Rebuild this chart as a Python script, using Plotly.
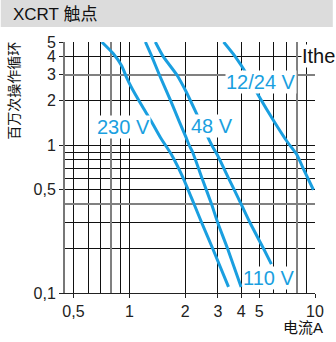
import math
import plotly.graph_objects as go

# ---------------- data ----------------
current_230v = [0.71, 0.82, 0.91, 0.96, 1.03, 1.16, 1.31, 1.47, 1.69, 1.95, 2.23, 2.45, 2.81, 3.42]
cycles_230v = [5.0, 4.16, 3.44, 2.93, 2.44, 1.88, 1.46, 1.13, 0.86, 0.60, 0.40, 0.30, 0.20, 0.11]

current_110v = [1.22, 1.32, 1.45, 1.67, 1.86, 2.02, 2.10, 2.19, 2.46, 2.77, 2.99, 3.38, 4.0]
cycles_110v = [5.0, 4.0, 3.0, 2.0, 1.44, 1.13, 1.0, 0.9, 0.6, 0.4, 0.3, 0.2, 0.11]

current_48v = [1.38, 1.52, 1.80, 2.02, 2.36, 2.65, 2.78, 2.98, 3.42, 4.0, 4.46, 5.28, 5.82]
cycles_48v = [5.0, 4.0, 3.0, 2.31, 1.53, 1.13, 1.0, 0.86, 0.6, 0.4, 0.3, 0.2, 0.157]

current_12_24v = [3.22, 3.71, 4.31, 5.0, 6.0, 7.07, 8.0, 8.62, 9.8]
cycles_12_24v = [5.0, 4.0, 3.0, 2.14, 1.46, 1.06, 0.86, 0.7, 0.5]

x_tick_vals = [0.5, 1, 2, 3, 4, 5, 10]
x_tick_text = ["0,5", "1", "2", "3", "4", "5", "10"]
y_tick_vals = [0.1, 0.5, 1, 2, 3, 4, 5]
y_tick_text = ["0,1", "0,5", "1", "2", "3", "4", "5"]

x_grid_black = [0.5, 0.6, 0.7, 0.9, 1, 2, 3, 4, 5, 6, 7, 9]
x_grid_gray = [0.8, 8]
x_grid_dashed = [10]
y_grid_black = [0.2, 0.3, 0.5, 0.6, 0.7, 0.8, 0.9, 1, 2, 4]
y_grid_gray = [0.4, 3, 5]

# label positions (data values)
label_230 = ("230 V", 0.925, 1.33)
label_110 = ("110 V", 5.6, 0.126)
label_48 = ("48 V", 2.78, 1.34)
label_1224 = ("12/24 V", 5.12, 2.69)

# ---------------- style ----------------
BLUE = "#1a9fe0"
FONT = "Liberation Sans, Arial, Noto Sans CJK SC, sans-serif"
CJK = "Noto Sans CJK SC, Liberation Sans, sans-serif"
W, H = 336, 342
ML, MR, MT, MB = 65, 18, 42, 49
PW, PH = W - ML - MR, H - MT - MB
X_RANGE = [math.log10(0.45), 1]
Y_RANGE = [-1, math.log10(5)]


def px_x(px):
    return (px - ML) / PW


def px_y(py):
    return (H - MB - py) / PH


fig = go.Figure()
for xs, ys in [(current_230v, cycles_230v), (current_110v, cycles_110v),
               (current_48v, cycles_48v), (current_12_24v, cycles_12_24v)]:
    fig.add_trace(go.Scatter(x=xs, y=ys, mode="lines",
                             line=dict(color=BLUE, width=3, shape="spline", smoothing=0.6),
                             hoverinfo="skip", showlegend=False))

# empty traces to make overlay subplots exist
for i in (2, 3, 4):
    fig.add_trace(go.Scatter(x=[], y=[], xaxis=f"x{i}", yaxis=f"y{i}", showlegend=False, hoverinfo="skip"))

common = dict(type="log", zeroline=False, showticklabels=False, ticks="", showline=False)

fig.update_layout(
    width=W, height=H, autosize=False,
    margin=dict(l=ML, r=MR, t=MT, b=MB, pad=0),
    paper_bgcolor="white", plot_bgcolor="white",
    showlegend=False,
    xaxis=dict(type="log", range=X_RANGE, tickvals=x_tick_vals, ticktext=x_tick_text,
               showgrid=False, zeroline=False, ticks="outside", ticklen=4, tickcolor="#222",
               showline=True, linecolor="#222", linewidth=1,
               tickfont=dict(family=FONT, size=16, color="#222")),
    yaxis=dict(type="log", range=Y_RANGE, tickvals=y_tick_vals, ticktext=y_tick_text,
               showgrid=False, zeroline=False, ticks="outside", ticklen=4, tickcolor="#222",
               showline=True, linecolor="#777", linewidth=2,
               tickfont=dict(family=FONT, size=16, color="#222")),
    xaxis2=dict(common, overlaying="x", anchor="y2", range=X_RANGE, tickvals=x_grid_black,
                showgrid=True, gridcolor="#111", gridwidth=1),
    yaxis2=dict(common, overlaying="y", anchor="x2", range=Y_RANGE, tickvals=y_grid_black,
                showgrid=True, gridcolor="#111", gridwidth=1),
    xaxis3=dict(common, overlaying="x", anchor="y3", range=X_RANGE, tickvals=x_grid_gray,
                showgrid=True, gridcolor="#808080", gridwidth=2),
    yaxis3=dict(common, overlaying="y", anchor="x3", range=Y_RANGE, tickvals=y_grid_gray,
                showgrid=True, gridcolor="#808080", gridwidth=2),
    xaxis4=dict(common, overlaying="x", anchor="y4", range=X_RANGE, tickvals=x_grid_dashed,
                showgrid=True, gridcolor="#111", gridwidth=2, griddash="dash"),
    yaxis4=dict(common, overlaying="y", anchor="x4", range=Y_RANGE, showgrid=False),
)

# title band
fig.add_shape(type="rect", xref="paper", yref="paper", layer="below",
              x0=px_x(0), x1=px_x(W), y0=px_y(27), y1=px_y(0),
              fillcolor="#dcdcdc", line=dict(width=0))

ann = []
ann.append(dict(text="XCRT 触点", xref="paper", yref="paper", x=px_x(10), y=px_y(14),
                xanchor="left", yanchor="middle", showarrow=False,
                font=dict(family=FONT, size=17, color="#111")))
ann.append(dict(text="百万次操作循环", xref="paper", yref="paper", x=px_x(12), y=px_y(91),
                xanchor="center", yanchor="middle", textangle=-90, showarrow=False,
                font=dict(family=CJK, size=14, color="#111")))
ann.append(dict(text="电流A", xref="paper", yref="paper", x=px_x(328), y=px_y(328),
                xanchor="right", yanchor="middle", showarrow=False,
                font=dict(family=FONT, size=15, color="#111")))
ann.append(dict(text="Ithe", xref="paper", yref="y", x=px_x(304), y=math.log10(4),
                xanchor="left", yanchor="middle", showarrow=False, bgcolor="white", borderpad=0,
                font=dict(family=FONT, size=20, color="#111")))
for text, lx, ly in (label_230, label_110, label_48, label_1224):
    ann.append(dict(text=text, xref="x", yref="y", x=math.log10(lx), y=math.log10(ly),
                    xanchor="center", yanchor="middle", showarrow=False,
                    bgcolor="white", borderpad=0,
                    font=dict(family=FONT, size=20, color=BLUE)))
fig.update_layout(annotations=ann)

fig.write_html("out.html", config={"displayModeBar": False},
               post_script="document.body.style.margin='0';document.body.style.overflow='hidden';")
